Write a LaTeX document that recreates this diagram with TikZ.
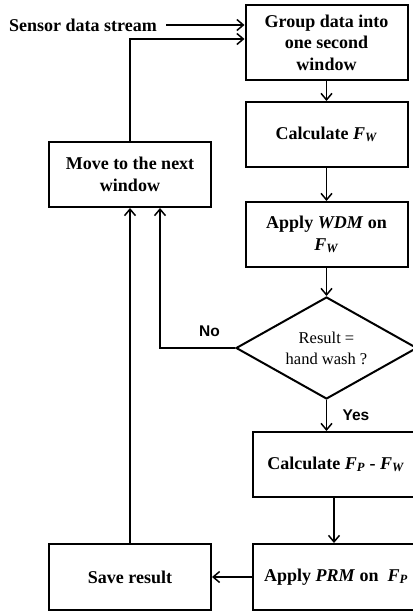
\documentclass[tikz,border=0pt]{standalone}
\usepackage{fontspec}
\setmainfont{Liberation Serif}
\newfontfamily\answerfont{Liberation Sans}
\usetikzlibrary{shapes.geometric,arrows.meta}

\begin{document}
\begin{tikzpicture}[x=1pt, y=-1pt,
    box/.style={draw, line width=2pt, inner sep=0pt, align=center,
      minimum width=162pt, minimum height=65pt,
      font=\fontsize{18}{21.5}\selectfont\bfseries},
    decision/.style={draw, diamond, aspect=1.8, line width=2pt, inner sep=0pt,
      align=center, minimum width=181pt, minimum height=102pt,
      font=\fontsize{16.5}{21}\selectfont},
    arr/.style={-{Straight Barb[length=6.5pt,width=11pt]}, line width=1.5pt},
    answer/.style={font=\answerfont\fontsize{15.5}{17}\selectfont\bfseries}]
    \useasboundingbox (0,0) rectangle (412,612);
    % Main column
    \node[box, minimum height=75pt] (group) at (326.5,42.5) {Group data into\\one second\\window};
    \node[box] (calcw) at (326.5,134.5) {Calculate \textit{F}\textsubscript{\textit{W}}};
    \node[box] (wdm) at (326.5,234.5) {Apply \textit{WDM} on\\\textit{F}\textsubscript{\textit{W}}};
    \node[decision] (check) at (326.5,348) {Result =\\hand wash ?};
    \node[box, minimum width=166pt] (calcp) at (336,464.5) {Calculate \textit{F}\textsubscript{\textit{P}} - \textit{F}\textsubscript{\textit{W}}};
    \node[box, minimum width=166pt, minimum height=66pt] (prm) at (336,577) {Apply \textit{PRM} on\enspace\textit{F}\textsubscript{\textit{P}}};
    % Left column
    \node[box] (move) at (130,174.5) {Move to the next\\window};
    \node[box, minimum height=66pt] (save) at (130,577) {Save result};
    % Input
    \node[inner sep=0pt, font=\fontsize{18}{21.5}\selectfont\bfseries] (sensor) at (83,25) {Sensor data stream};
    % Connectors
    \draw[arr] ([xshift=9pt]sensor.east) -- (sensor.east -| group.west);
    \draw[arr] (move.north) |- ([yshift=3.5pt]group.west);
    \draw[arr] (group) -- (calcw);
    \draw[arr] (calcw) -- (wdm);
    \draw[arr] (wdm) -- (check);
    \draw[arr] (check.west) -| ([xshift=30pt]move.south) node[answer, pos=0.17, above=7pt] {No};
    \draw[arr] (check.south) -- (check.south |- calcp.north) node[answer, midway, right=12pt] {Yes};
    \draw[arr] (calcp.south -| prm.north) ++(-2pt,0) -- ([xshift=-2pt]prm.north);
    \draw[arr] (prm) -- (save);
    \draw[arr] (save) -- (move);
  \end{tikzpicture}
\end{document}
